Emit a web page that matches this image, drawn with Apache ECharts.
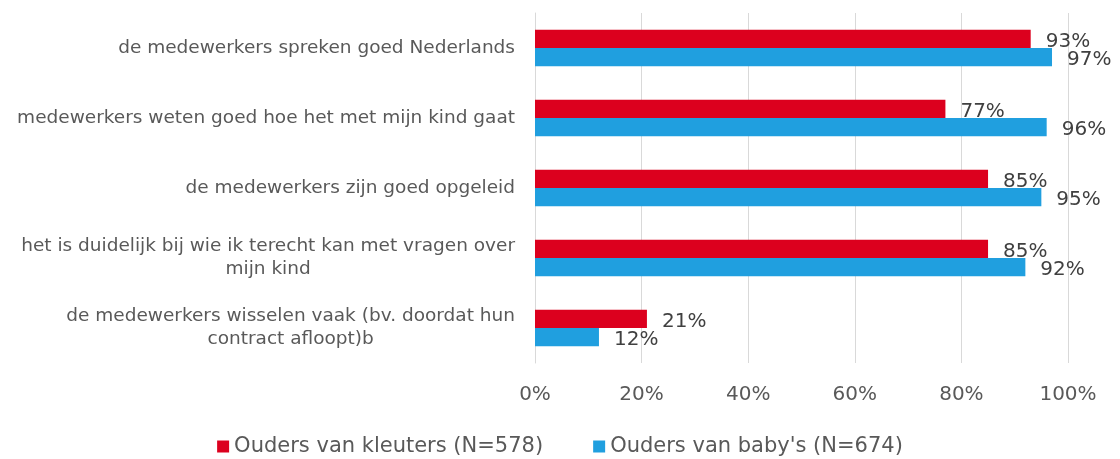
<!DOCTYPE html>
<html>
<head>
<meta charset="utf-8">
<script src="https://cdn.jsdelivr.net/npm/echarts@6/dist/echarts.min.js"></script>
<style>
  html, body { margin: 0; padding: 0; background: #fff; }
  #chart { width: 1120px; height: 459px; }
</style>
</head>
<body>
<div id="chart"></div>
<script>
var categories = [
    'de medewerkers spreken goed Nederlands',
    'medewerkers weten goed hoe het met mijn kind gaat',
    'de medewerkers zijn goed opgeleid',
    'het is duidelijk bij wie ik terecht kan met vragen over\nmijn kind',
    'de medewerkers wisselen vaak (bv. doordat hun\ncontract afloopt)b'
];
var kleuters = [93, 77, 85, 85, 21];
var babys = [97, 96, 95, 92, 12];
var seriesNames = ['Ouders van kleuters (N=578)', "Ouders van baby's (N=674)"];

var font = 'DejaVu Sans';
var chart = echarts.init(document.getElementById('chart'));

var valueLabel = {
    show: true,
    position: 'right',
    distance: 15,
    offset: [0, 3],
    formatter: '{c}%',
    fontFamily: font,
    fontSize: 20,
    color: '#404040'
};

var option = {
    animation: false,
    grid: { left: 535, right: 52, top: 13, bottom: 96 },
    legend: {
        top: 431,
        left: 'center',
        itemWidth: 12,
        itemHeight: 12,
        itemGap: 50,
        icon: 'rect',
        textStyle: { fontFamily: font, fontSize: 21, color: '#595959' },
        data: seriesNames
    },
    xAxis: {
        type: 'value',
        min: 0,
        max: 100,
        interval: 20,
        axisLine: { show: false },
        axisTick: { show: false },
        splitLine: { lineStyle: { color: '#d9d9d9', width: 1 } },
        axisLabel: {
            formatter: '{value}%',
            margin: 22,
            fontFamily: font,
            fontSize: 20,
            color: '#595959'
        }
    },
    yAxis: {
        type: 'category',
        inverse: true,
        data: categories,
        axisLine: { lineStyle: { color: '#d9d9d9' } },
        axisTick: { show: false },
        axisLabel: {
            margin: 20,
            fontFamily: font,
            fontSize: 18.5,
            color: '#595959',
            lineHeight: 23,
            formatter: function (v) {
                return v.split('\n').map(function (l) { return '{c|' + l + '}'; }).join('\n');
            },
            rich: {
                c: { align: 'center', fontFamily: font, fontSize: 18.5, color: '#595959', lineHeight: 23 }
            }
        }
    },
    series: [
        {
            name: seriesNames[0],
            type: 'bar',
            data: kleuters,
            barGap: '0%',
            barCategoryGap: '48%',
            itemStyle: { color: '#dc001e' },
            label: valueLabel
        },
        {
            name: seriesNames[1],
            type: 'bar',
            data: babys,
            itemStyle: { color: '#209fdf' },
            label: valueLabel
        }
    ]
};
chart.setOption(option);
</script>
</body>
</html>
